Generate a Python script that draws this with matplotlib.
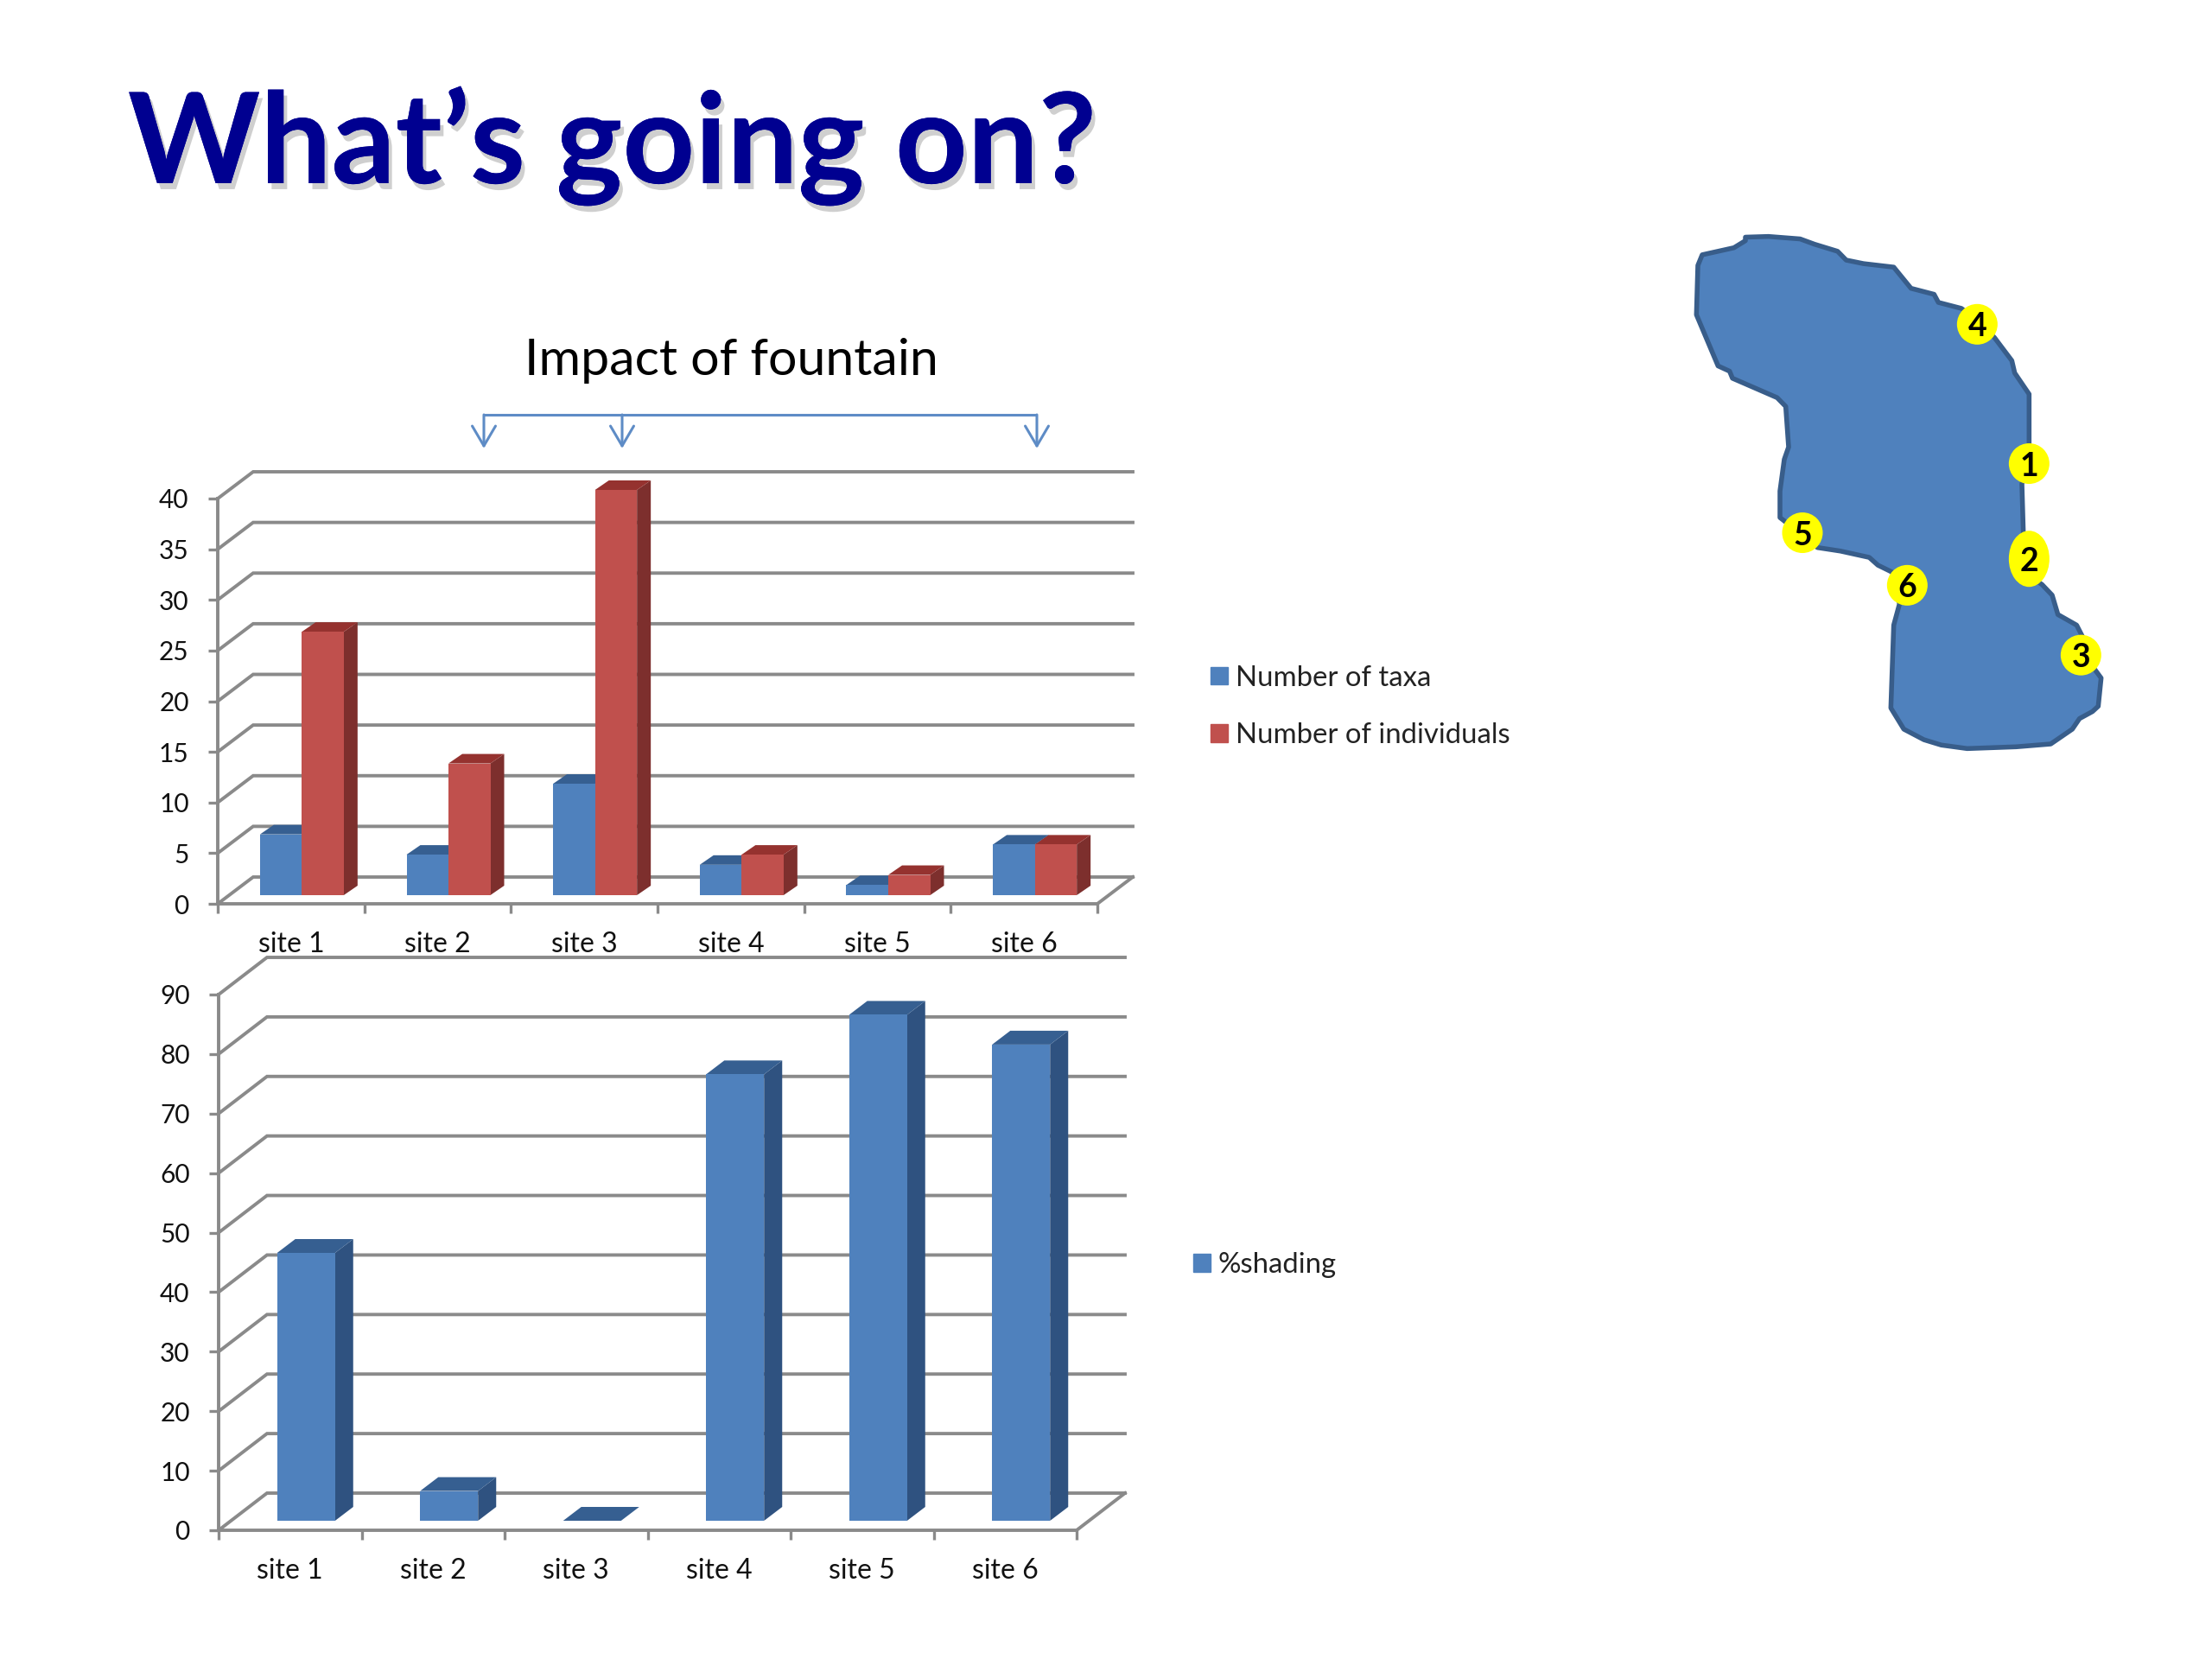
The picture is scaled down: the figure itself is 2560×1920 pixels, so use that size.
import matplotlib
matplotlib.use("Agg")
import matplotlib.pyplot as plt
from matplotlib.patches import Polygon, Ellipse, Patch
from matplotlib.transforms import Affine2D
import matplotlib.patheffects as pe

plt.rcParams['font.family'] = ['Lato', 'DejaVu Sans']

# ---- data ----
sites = ['site 1', 'site 2', 'site 3', 'site 4', 'site 5', 'site 6']
taxa = [6, 4, 11, 3, 1, 5]
individuals = [26, 13, 40, 4, 2, 5]
shading = [45, 5, 0, 75, 85, 80]
top_ticks = [0, 5, 10, 15, 20, 25, 30, 35, 40]
bottom_ticks = [0, 10, 20, 30, 40, 50, 60, 70, 80, 90]
map_labels = ['4', '1', '2', '3', '5', '6']
title_text = 'What\u2019s going on?'
subtitle_text = 'Impact of fountain'

# lake outline (page pixels after scaling)
lake_outline = [(210,60),(290,58),(400,65),(450,80),(530,100),(560,125),(620,135),(725,145),
    (785,205),(865,222),(880,245),(960,262),(1020,300),(1075,345),(1135,410),(1145,445),
    (1195,505),(1195,650),(1170,760),(1175,900),(1160,1000),(1240,1045),(1275,1075),
    (1295,1130),(1360,1160),(1385,1200),(1400,1260),(1445,1310),(1435,1390),(1415,1405),
    (1370,1425),(1345,1455),(1270,1497),(1150,1505),(980,1510),(890,1500),(830,1485),
    (760,1455),(715,1395),(725,1160),(745,1100),(720,1010),(670,990),(640,968),(540,950),
    (460,940),(400,900),(330,855),(330,780),(345,690),(360,655),(350,540),(320,515),
    (165,460),(155,440),(115,425),(40,280),(45,140),(60,110),(170,90),(210,70)]
map_spots = [(1015,307,47,47),(1195,702,47,47),(1195,972,47,65),(1375,1245,47,47),(408,898,47,47),(772,1047,47,47)]

BLUE = ('#4F81BD', '#365F91', '#2F5280')
RED = ('#C0504D', '#95322F', '#7D2F2D')
GRID = '#8A8A8A'
LW = 2.8
W, H = 2560, 1920
MAP_SX, MAP_SY = 3.0, 2.45

fig = plt.figure(figsize=(25.6, 19.2), dpi=100, facecolor='white')

page = fig.add_axes([0, 0, 1, 1], zorder=0)
page.set_xlim(0, W); page.set_ylim(H, 0); page.axis('off')

t = page.text(148, 212, title_text, fontsize=105, fontweight='bold', color='#000090', ha='left', va='baseline')
t.set_path_effects([pe.withSimplePatchShadow(offset=(3, -5), shadow_rgbFace='#777777', alpha=0.35), pe.Normal()])
page.text(846, 418, subtitle_text, fontsize=42.6, color='black', ha='center', va='center')

# bracket with arrows
BR = '#5E8CC6'
page.plot([560, 1200], [480, 480], color=BR, lw=2.2, solid_capstyle='butt')
for ax_x in (560, 720, 1200):
    page.annotate('', xy=(ax_x, 519), xytext=(ax_x, 480),
                  arrowprops=dict(arrowstyle='->,head_length=1.65,head_width=0.97', color=BR, lw=2.2,
                                  shrinkA=0, shrinkB=0, mutation_scale=10))

# lake map
pts = [(1950 + x / MAP_SX, 250 + y / MAP_SY) for x, y in lake_outline]
page.add_patch(Polygon(pts, closed=True, facecolor='#4F81BD', edgecolor='#385D8A', lw=4, joinstyle='round'))
for lab, (x, y, w, h) in zip(map_labels, map_spots):
    cx, cy = 1950 + x / MAP_SX, 250 + y / MAP_SY
    page.add_patch(Ellipse((cx, cy), w, h, facecolor='#FFFF00', edgecolor='none', zorder=3))
    page.text(cx, cy, lab, fontsize=27, fontweight='bold', color='black', ha='center', va='center_baseline', zorder=4)


def make_axes(x0, x1, y0, ytop, ymax):
    ax = fig.add_axes([x0 / W, (H - y0) / H, (x1 - x0) / W, (y0 - ytop) / H], zorder=1)
    ax.patch.set_alpha(0)
    ax.set_xlim(0, 6); ax.set_ylim(0, ymax)
    for s in ('top', 'right'):
        ax.spines[s].set_visible(False)
    for s in ('left', 'bottom'):
        ax.spines[s].set_color(GRID); ax.spines[s].set_linewidth(LW)
    return ax


def frame(ax, ticks, dx, dy, xpad):
    for v in ticks:
        ax.plot([0, dx, 6 + dx], [v, v + dy, v + dy], color=GRID, lw=LW, clip_on=False, zorder=1,
                solid_joinstyle='miter')
    ax.plot([6, 6 + dx], [0, dy], color=GRID, lw=LW, clip_on=False, zorder=1)
    ax.set_yticks(ticks)
    ax.set_xticks([i + 0.5 for i in range(6)])
    ax.set_xticklabels(sites)
    ax.set_xticks(range(7), minor=True)
    ax.tick_params(axis='y', length=8, width=2.4, color=GRID, pad=16, labelsize=21.5, labelcolor='#111111')
    ax.tick_params(axis='x', which='major', length=0, pad=xpad, labelsize=23, labelcolor='#111111')
    ax.tick_params(axis='x', which='minor', length=8, width=2.4, color=GRID)


def bar3d(ax, xl, v, w, ddx, ddy, colors, trans, z):
    xr = xl + w
    ax.bar(xl, v, width=w, align='edge', color=colors[0], linewidth=0, transform=trans, zorder=z + 0.2, clip_on=False)
    ax.fill([xr, xr + ddx, xr + ddx, xr], [0, ddy, v + ddy, v], color=colors[2], lw=0, transform=trans, zorder=z, clip_on=False)
    ax.fill([xl, xl + ddx, xr + ddx, xr], [v, v + ddy, v + ddy, v], color=colors[1], lw=0, transform=trans, zorder=z + 0.1, clip_on=False)


# top chart
tx0, tx1, ty0, ty40 = 252, 1270, 1046, 577
ax1 = make_axes(tx0, tx1, ty0, ty40, 40)
px_x = (tx1 - tx0) / 6
px_y = (ty0 - ty40) / 40
frame(ax1, top_ticks, 41 / px_x, 31 / px_y, 23)
tr1 = ax1.transData + Affine2D().translate(12.5, 10)
w1 = 48.5 / px_x
for i in range(6):
    z = 3 + i
    bar3d(ax1, i + 0.5 - w1, taxa[i], w1, 16 / px_x, 11 / px_y, BLUE, tr1, z)
    bar3d(ax1, i + 0.5, individuals[i], w1, 16 / px_x, 11 / px_y, RED, tr1, z + 0.5)
ax1.legend(handles=[Patch(color=BLUE[0], label='Number of taxa'), Patch(color=RED[0], label='Number of individuals')],
           loc='center left', bbox_to_anchor=(1401 / W, (H - 818) / H), bbox_transform=fig.transFigure,
           frameon=False, fontsize=23.7, handlelength=0.6, handleheight=0.6, handletextpad=0.28,
           labelspacing=1.12, borderpad=0, borderaxespad=0, labelcolor='#222222')

# bottom chart
bx0, bx1, by0, by90 = 253, 1246, 1771, 1151
ax2 = make_axes(bx0, bx1, by0, by90, 90)
px_x2 = (bx1 - bx0) / 6
px_y2 = (by0 - by90) / 90
frame(ax2, bottom_ticks, 56 / px_x2, 43 / px_y2, 23)
tr2 = ax2.transData + Affine2D().translate(18.5, 11)
w2 = 67 / px_x2
for i in range(6):
    bar3d(ax2, i + 0.5 - w2 / 2, shading[i], w2, 21 / px_x2, 16 / px_y2, BLUE, tr2, 3 + i)
ax2.legend(handles=[Patch(color=BLUE[0], label='%shading')],
           loc='center left', bbox_to_anchor=(1381 / W, (H - 1464) / H), bbox_transform=fig.transFigure,
           frameon=False, fontsize=23.7, handlelength=0.6, handleheight=0.6, handletextpad=0.28,
           borderpad=0, borderaxespad=0, labelcolor='#222222')

fig.savefig('out.png', dpi=100, facecolor='white')
